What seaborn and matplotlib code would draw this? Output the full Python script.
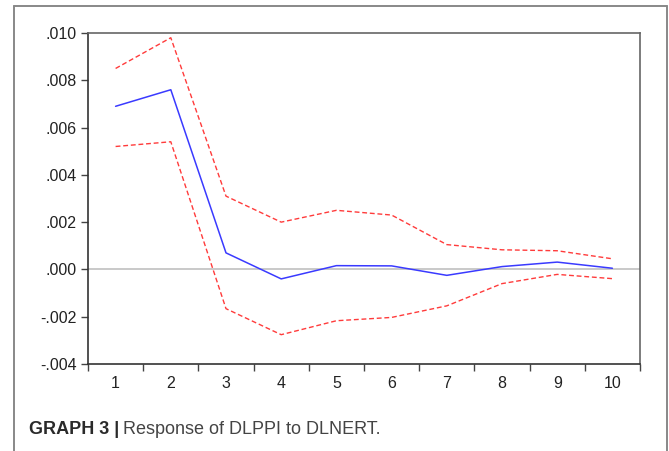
import numpy as np
import pandas as pd
import seaborn as sns
import matplotlib
matplotlib.use("Agg")
import matplotlib.pyplot as plt
from matplotlib.lines import Line2D

# impulse response values
periods = [1, 2, 3, 4, 5, 6, 7, 8, 9, 10]
response = [0.0069, 0.0076, 0.0007, -0.0004, 0.00016, 0.00015, -0.00025, 0.00012, 0.00031, 0.00005]
upper_band = [0.0085, 0.0098, 0.0031, 0.0020, 0.0025, 0.0023, 0.00105, 0.00083, 0.00079, 0.00045]
lower_band = [0.0052, 0.0054, -0.00166, -0.00276, -0.00217, -0.00203, -0.00154, -0.0006, -0.00021, -0.00039]
y_ticks = [-0.004, -0.002, 0.000, 0.002, 0.004, 0.006, 0.008, 0.010]
y_labels = ["-.004", "-.002", ".000", ".002", ".004", ".006", ".008", ".010"]

sns.set_style("white")
plt.rcParams["font.family"] = ["Liberation Sans", "DejaVu Sans"]

df = pd.DataFrame({"period": periods, "response": response,
                   "upper": upper_band, "lower": lower_band})

fig = plt.figure(figsize=(6.69, 4.51), dpi=100)
ax = fig.add_axes([88 / 669, 1 - 364 / 451, 552 / 669, 331 / 451])

ax.axhline(0, color="#c0c0c0", lw=1.2, zorder=1)
sns.lineplot(data=df, x="period", y="upper", ax=ax, color="#ff3b3b", lw=1.0, linestyle=(0, (3.5, 2)))
sns.lineplot(data=df, x="period", y="lower", ax=ax, color="#ff3b3b", lw=1.0, linestyle=(0, (3.5, 2)))
sns.lineplot(data=df, x="period", y="response", ax=ax, color="#3a3aff", lw=1.1)

ax.set_xlim(0.5, 10.5)
ax.set_ylim(-0.004, 0.010)
ax.set_xlabel("")
ax.set_ylabel("")

ax.set_xticks(periods)
ax.set_xticklabels([str(p) for p in periods])
ax.set_xticks(np.arange(0.5, 11, 1.0), minor=True)
ax.tick_params(axis="x", which="major", length=0, pad=9, labelsize=11.5, colors="#222222")
ax.tick_params(axis="x", which="minor", length=5, width=1, color="#444444", direction="out", bottom=True)
ax.set_yticks(y_ticks)
ax.set_yticklabels(y_labels)
ax.tick_params(axis="y", length=5, width=1, color="#444444", direction="out", left=True, pad=3,
               labelsize=11.5, labelcolor="#222222")

for side in ["left", "bottom"]:
    ax.spines[side].set_color("#333333")
    ax.spines[side].set_linewidth(1.2)
for side in ["top", "right"]:
    ax.spines[side].set_color("#666666")
    ax.spines[side].set_linewidth(1.2)

# outer frame, open at the bottom
fx0, fx1, fy = 14 / 669, 667 / 669, 1 - 6 / 451
for xs, ys in [([fx0, fx0], [0, fy]), ([fx0, fx1], [fy, fy]), ([fx1, fx1], [fy, 0])]:
    fig.add_artist(Line2D(xs, ys, transform=fig.transFigure, color="#888888", lw=1.4))

# caption
t1 = fig.text(29 / 669, 1 - 429 / 451, "GRAPH 3 |", fontsize=13, fontweight="bold",
              color="#2a2a2a", va="center")
fig.canvas.draw()
bb = t1.get_window_extent().transformed(fig.transFigure.inverted())
fig.text(bb.x1 + 4 / 669, 1 - 429 / 451, "Response of DLPPI to DLNERT.", fontsize=13,
         color="#444444", va="center")

fig.savefig("out.png", dpi=100)
